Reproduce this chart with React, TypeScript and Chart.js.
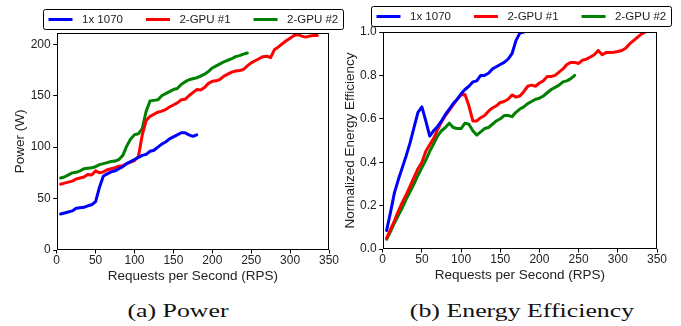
import React, { useEffect, useRef } from "react";
import { Chart, registerables } from "chart.js";

Chart.register(...registerables);

// ---------- data ----------
const RPS = [
  5, 10, 15, 20, 25, 30, 35, 40, 45, 50,
  55, 60, 65, 70, 75, 80, 85, 90, 95, 100,
  105, 110, 115, 120, 125, 130, 135, 140, 145, 150,
  155, 160, 165, 170, 175, 180, 185, 190, 195, 200,
  205, 210, 215, 220, 225, 230, 235, 240, 245, 250,
  255, 260, 265, 270, 275, 280, 285, 290, 295, 300,
  305, 310, 315, 320, 325, 330, 335,
];

const SERIES_LABELS = ["1x 1070", "2-GPU #1", "2-GPU #2"];

const POWER_1X1070 = [
  35, 36, 37, 38, 40.5, 41, 41.5, 43, 44, 47,
  61, 72, 74, 76, 77, 79, 81, 84, 86, 88,
  90, 92, 93, 96, 97, 100, 103, 105, 108, 110,
  112, 114, 114, 112, 110.5, 112,
];
const POWER_2GPU_1 = [
  64, 65, 66, 67, 69, 70, 71, 73.5, 73, 77,
  75, 76, 78, 79, 80, 81.5, 82, 84, 85.5, 87,
  91, 112, 126, 130, 132, 134, 135, 136.5, 139, 141,
  143, 146, 146.5, 150, 153, 156, 155.5, 158, 162, 164,
  164.5, 166, 169, 171, 173, 174, 174.5, 175.5, 179, 182,
  184, 186, 188, 188.5, 187, 195, 197.5, 200.5, 203.5, 206,
  208.5, 209.5, 208, 207, 208, 208.5, 208.5,
];
const POWER_2GPU_2 = [
  70, 71, 73, 75, 75.5, 77, 79, 79.5, 80, 81,
  83, 84, 85, 86, 86.5, 88, 92, 101, 108, 112,
  113, 118, 135, 145, 145.5, 146, 150, 152, 154, 156,
  157, 161, 163.5, 165.5, 166.5, 167.5, 169, 171, 173.5, 177,
  179, 181, 183, 184.5, 186, 188, 189, 190.5, 191.5,
];

const EFF_1X1070 = [
  0.085, 0.17, 0.26, 0.32, 0.375, 0.43, 0.49, 0.56, 0.63, 0.655,
  0.59, 0.52, 0.545, 0.565, 0.59, 0.62, 0.645, 0.67, 0.69, 0.715,
  0.735, 0.75, 0.77, 0.775, 0.8, 0.8, 0.81, 0.83, 0.84, 0.85,
  0.86, 0.875, 0.9, 0.96, 0.995, 1.0,
];
const EFF_2GPU_1 = [
  0.05, 0.09, 0.13, 0.175, 0.215, 0.25, 0.29, 0.33, 0.37, 0.4,
  0.45, 0.48, 0.51, 0.55, 0.585, 0.615, 0.64, 0.665, 0.69, 0.71,
  0.712, 0.66, 0.59, 0.59, 0.605, 0.615, 0.635, 0.65, 0.66, 0.675,
  0.68, 0.69, 0.71, 0.7, 0.705, 0.725, 0.75, 0.755, 0.75, 0.765,
  0.775, 0.795, 0.795, 0.8, 0.815, 0.83, 0.85, 0.86, 0.86, 0.855,
  0.87, 0.875, 0.885, 0.895, 0.915, 0.895, 0.905, 0.905, 0.907, 0.91,
  0.915, 0.925, 0.945, 0.96, 0.975, 0.99, 1.0,
];
const EFF_2GPU_2 = [
  0.045, 0.08, 0.12, 0.155, 0.19, 0.23, 0.265, 0.3, 0.34, 0.375,
  0.41, 0.45, 0.485, 0.52, 0.545, 0.56, 0.58, 0.56, 0.555, 0.555,
  0.58, 0.575, 0.545, 0.525, 0.54, 0.555, 0.56, 0.575, 0.59, 0.6,
  0.615, 0.615, 0.61, 0.63, 0.645, 0.655, 0.67, 0.68, 0.69, 0.695,
  0.705, 0.72, 0.735, 0.745, 0.755, 0.77, 0.775, 0.785, 0.8,
];

const X_TICKS = [0, 50, 100, 150, 200, 250, 300, 350];
const POWER_TICKS = [0, 50, 100, 150, 200];
const EFF_TICKS = [0, 0.2, 0.4, 0.6, 0.8, 1.0];

const COLORS = ["#0000ff", "#ff0000", "#008000"];
const SANS = "'Liberation Sans', Arial, Helvetica, sans-serif";
const TEXT = "#222";

// ---------- helpers ----------
const toPoints = (values: number[]) => values.map((v, i) => ({ x: RPS[i], y: v }));

const makeDatasets = (series: number[][]) =>
  series.map((values, i) => ({
    label: SERIES_LABELS[i],
    data: toPoints(values),
    borderColor: COLORS[i],
    backgroundColor: COLORS[i],
    borderWidth: 3,
    pointRadius: 0,
    pointHoverRadius: 0,
    tension: 0,
    fill: false,
    borderJoinStyle: "round" as const,
    borderCapStyle: "round" as const,
  }));

const frameLegendPlugin = {
  id: "frameLegend",
  afterDraw(chart: any, _args: any, opts: any) {
    const { ctx, chartArea: a } = chart;
    ctx.save();
    // axes frame
    ctx.strokeStyle = "#000";
    ctx.lineWidth = 1;
    const l = Math.round(a.left) + 0.5;
    const t = Math.round(a.top) + 0.5;
    const r = Math.round(a.right) - 0.5;
    const b = Math.round(a.bottom) - 0.5;
    ctx.strokeRect(l, t, r - l, b - t);

    // legend
    ctx.font = `${opts.fontSize}px ${SANS}`;
    const labels: string[] = chart.data.datasets.map((d: any) => d.label);
    const widths = labels.map((s) => ctx.measureText(s).width);
    const total =
      opts.pad * 2 +
      widths.reduce((s, w) => s + opts.lineLen + opts.gap + w, 0) +
      opts.itemGap * (widths.length - 1);
    const bx = Math.round(opts.centerX - total / 2) + 0.5;
    const by = opts.top + 0.5;
    const bh = opts.height;
    ctx.beginPath();
    ctx.roundRect(bx, by, Math.round(total), bh, 2);
    ctx.fillStyle = "#fff";
    ctx.fill();
    ctx.strokeStyle = "#000";
    ctx.lineWidth = 1;
    ctx.stroke();

    const cy = opts.top + bh / 2 + 0.5;
    let x = bx + opts.pad;
    chart.data.datasets.forEach((d: any, i: number) => {
      ctx.strokeStyle = d.borderColor;
      ctx.lineWidth = 3;
      ctx.lineCap = "butt";
      ctx.beginPath();
      ctx.moveTo(x, cy);
      ctx.lineTo(x + opts.lineLen, cy);
      ctx.stroke();
      x += opts.lineLen + opts.gap;
      ctx.fillStyle = TEXT;
      ctx.textBaseline = "middle";
      ctx.textAlign = "left";
      ctx.fillText(d.label, x, cy + 0.5);
      x += widths[i] + opts.itemGap;
    });
    ctx.restore();
  },
};

function buildConfig(p: {
  series: number[][];
  yMax: number;
  yTicks: number[];
  yTitle: string;
  yFormat: (v: number) => string;
  padding: { left: number; right: number; top: number; bottom: number };
  yAxisWidth: number;
  yTitlePad: number;
  legend: any;
}) {
  return {
    type: "line" as const,
    data: { datasets: makeDatasets(p.series) },
    plugins: [frameLegendPlugin],
    options: {
      animation: false as const,
      responsive: false,
      devicePixelRatio: 1,
      events: [],
      layout: { padding: p.padding },
      plugins: {
        legend: { display: false },
        tooltip: { enabled: false },
        frameLegend: p.legend,
      },
      scales: {
        x: {
          type: "linear" as const,
          position: "bottom" as const,
          min: 0,
          max: 350,
          afterBuildTicks: (s: any) => {
            s.ticks = X_TICKS.map((v) => ({ value: v }));
          },
          afterFit: (s: any) => {
            s.height = 34;
          },
          grid: { display: true, drawOnChartArea: false, drawTicks: true, tickLength: 3.5, color: "#000" },
          border: { display: false },
          ticks: {
            color: TEXT,
            font: { family: SANS, size: 12 },
            padding: 0,
            maxRotation: 0,
            autoSkip: false,
            callback: (v: any) => String(v),
          },
          title: {
            display: true,
            text: "Requests per Second (RPS)",
            color: TEXT,
            font: { family: SANS, size: 13.5 },
            padding: { top: 0, bottom: 0 },
          },
        },
        y: {
          type: "linear" as const,
          min: 0,
          max: p.yMax,
          afterBuildTicks: (s: any) => {
            s.ticks = p.yTicks.map((v) => ({ value: v }));
          },
          afterFit: (s: any) => {
            s.width = p.yAxisWidth;
          },
          grid: { display: true, drawOnChartArea: false, drawTicks: true, tickLength: 3.5, color: "#000" },
          border: { display: false },
          ticks: {
            color: TEXT,
            font: { family: SANS, size: 12 },
            padding: 2.5,
            autoSkip: false,
            callback: (v: any) => p.yFormat(Number(v)),
          },
          title: {
            display: true,
            text: p.yTitle,
            color: TEXT,
            font: { family: SANS, size: 13.5 },
            padding: { top: p.yTitlePad, bottom: 0 },
          },
        },
      },
    },
  };
}

export default function App() {
  const leftRef = useRef<HTMLCanvasElement | null>(null);
  const rightRef = useRef<HTMLCanvasElement | null>(null);

  useEffect(() => {
    const legendBase = { fontSize: 11.5, pad: 5, lineLen: 24, gap: 9.5, itemGap: 23, height: 20 };
    const left = new Chart(
      leftRef.current as HTMLCanvasElement,
      buildConfig({
        series: [POWER_1X1070, POWER_2GPU_1, POWER_2GPU_2],
        yMax: 211,
        yTicks: POWER_TICKS,
        yTitle: "Power (W)",
        yFormat: (v) => String(v),
        padding: { left: 0, right: 352, top: 33, bottom: 6 },
        yAxisWidth: 56.7,
        yTitlePad: 12,
        legend: { ...legendBase, centerX: 193, top: 9 },
      }) as any
    );
    const right = new Chart(
      rightRef.current as HTMLCanvasElement,
      buildConfig({
        series: [EFF_1X1070, EFF_2GPU_1, EFF_2GPU_2],
        yMax: 1.0,
        yTicks: EFF_TICKS,
        yTitle: "Normalized Energy Efficiency",
        yFormat: (v) => v.toFixed(1),
        padding: { left: 340, right: 24, top: 32, bottom: 7 },
        yAxisWidth: 42.7,
        yTitlePad: 2,
        legend: { ...legendBase, centerX: 520.5, top: 6 },
      }) as any
    );
    return () => {
      left.destroy();
      right.destroy();
    };
  }, []);

  const caption = (text: string, center: number) => (
    <div
      style={{
        position: "absolute",
        left: center,
        top: 301,
        fontFamily: "'Liberation Serif', 'Times New Roman', serif",
        fontSize: 19,
        lineHeight: 1,
        color: "#111",
        whiteSpace: "nowrap",
        transform: "translateX(-50%) scaleX(1.36)",
        transformOrigin: "center",
      }}
    >
      {text}
    </div>
  );

  return (
    <div
      style={{
        position: "absolute",
        left: 0,
        top: 0,
        width: 681,
        height: 326,
        background: "#fff",
        overflow: "hidden",
      }}
    >
      <canvas ref={leftRef} width={681} height={290} style={{ position: "absolute", left: 0, top: 0 }} />
      <canvas ref={rightRef} width={681} height={290} style={{ position: "absolute", left: 0, top: 0 }} />
      {caption("(a) Power", 177.5)}
      {caption("(b) Energy Efficiency", 522)}
    </div>
  );
}
